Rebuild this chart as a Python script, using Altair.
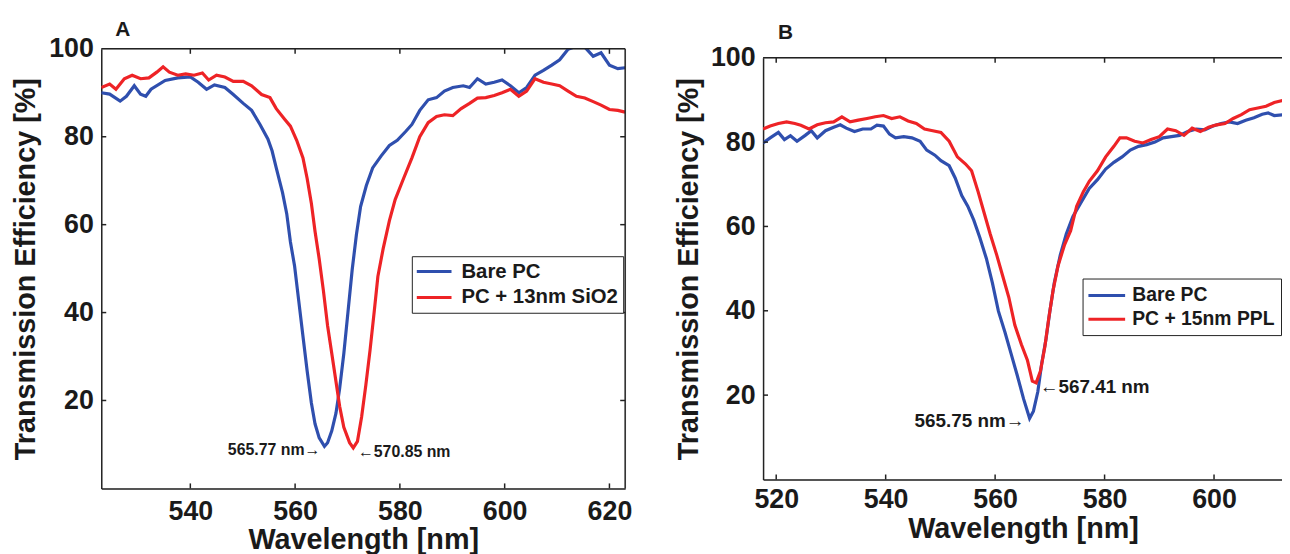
import altair as alt
import pandas as pd

# ---------------- data ----------------
A_SERIES = ["Bare PC", "PC + 13nm SiO2"]
B_SERIES = ["Bare PC", "PC + 15nm PPL"]

A_BLUE_WL = [523.0, 524.6, 526.6, 527.8, 529.3, 530.5, 531.5, 532.5, 535.2, 537.6, 540.0, 541.5,
             543.1, 544.6, 546.6, 548.2, 550.1, 551.7, 553.3, 554.8, 555.6, 556.4, 557.6, 558.4,
             559.1, 559.9, 560.7, 561.5, 562.3, 563.1, 563.8, 564.6, 565.6, 566.2, 567.0, 567.8,
             568.5, 569.3, 570.1, 570.9, 571.7, 572.5, 573.6, 574.8, 576.4, 578.0, 579.5, 581.1,
             582.3, 583.8, 585.4, 587.0, 588.5, 590.1, 592.1, 593.3, 594.8, 596.4, 598.0, 599.5,
             601.1, 602.7, 604.2, 605.8, 607.4, 609.0, 610.5, 612.1, 613.7, 615.3, 616.9, 618.4,
             620.0, 621.6, 623.0]
A_BLUE_T = [90.0, 89.7, 88.1, 89.2, 91.6, 89.7, 89.2, 90.8, 92.8, 93.4, 93.6, 92.4,
            90.8, 91.8, 91.2, 89.6, 87.6, 86.0, 82.8, 79.5, 76.8, 72.9, 67.3, 62.5,
            56.1, 50.6, 42.6, 34.6, 26.7, 19.5, 14.7, 11.5, 9.55, 10.4, 13.1, 17.1,
            22.7, 30.7, 40.2, 49.8, 57.7, 64.1, 68.9, 72.9, 75.6, 78.0, 79.2, 81.2,
            82.8, 86.0, 88.4, 88.9, 90.4, 91.2, 91.6, 91.2, 93.2, 92.0, 92.4, 92.9,
            91.6, 90.0, 91.2, 94.0, 95.1, 96.3, 97.5, 99.9, 100.6, 100.4, 98.3, 99.1,
            96.3, 95.5, 95.7]

A_RED_WL = [523.0, 524.6, 525.8, 527.4, 528.9, 530.5, 532.1, 533.6, 534.8, 536.0, 537.6, 539.1,
            540.7, 542.3, 543.5, 545.0, 546.6, 548.2, 550.1, 551.7, 553.6, 555.2, 556.4, 558.0,
            559.1, 560.3, 561.5, 562.3, 563.1, 563.8, 564.6, 565.4, 566.2, 567.0, 567.8, 568.5,
            569.3, 570.4, 571.1, 571.9, 572.7, 573.5, 574.3, 575.1, 575.8, 576.8, 578.0, 579.1,
            580.7, 582.3, 583.8, 585.4, 587.0, 588.5, 590.1, 591.7, 593.3, 594.8, 596.4, 598.0,
            599.5, 601.1, 602.7, 604.2, 605.8, 607.4, 609.0, 610.5, 612.1, 613.7, 615.3, 616.9,
            618.4, 620.0, 621.6, 623.0]
A_RED_T = [91.2, 92.0, 90.8, 93.2, 94.0, 93.2, 93.4, 94.7, 95.9, 94.7, 94.0, 94.3,
           94.0, 94.5, 92.9, 94.0, 93.6, 92.6, 92.6, 91.6, 89.6, 88.9, 86.4, 84.0,
           82.4, 79.2, 75.2, 70.5, 64.9, 58.5, 52.2, 45.0, 37.0, 30.7, 24.3, 18.7,
           13.9, 10.4, 9.2, 10.7, 16.3, 23.5, 31.4, 40.2, 48.2, 54.5, 60.9, 65.7,
           70.5, 75.2, 80.0, 83.2, 84.6, 85.0, 84.8, 86.4, 87.6, 88.8, 88.9, 89.4,
           90.0, 90.8, 89.2, 90.4, 93.2, 92.4, 92.0, 91.6, 90.4, 89.2, 88.8, 88.0,
           87.2, 86.2, 86.0, 85.6]

B_BLUE_WL = [517.6, 518.9, 520.4, 521.5, 522.6, 523.8, 525.3, 526.4, 527.5, 529.0, 530.5, 531.7,
             532.8, 534.3, 535.8, 537.3, 538.4, 539.6, 540.7, 541.8, 543.3, 544.8, 546.3, 547.5,
             549.0, 550.1, 551.6, 552.7, 553.9, 555.0, 556.1, 557.2, 558.4, 559.5, 560.6, 561.8,
             562.9, 564.0, 565.2, 566.3, 567.0, 567.8, 568.5, 569.3, 570.0, 570.8, 571.9, 573.0,
             574.2, 575.7, 577.2, 578.7, 580.2, 581.7, 583.2, 584.7, 586.2, 587.7, 589.2, 590.7,
             592.2, 593.7, 595.2, 596.8, 598.3, 599.8, 601.3, 602.8, 604.3, 605.8, 607.3, 608.8,
             609.9, 611.0, 612.6]
B_BLUE_T = [79.8, 81.0, 82.3, 80.6, 81.5, 80.2, 81.6, 82.7, 81.0, 82.7, 83.5, 84.1,
            83.3, 82.5, 83.1, 83.1, 84.0, 83.8, 81.9, 81.0, 81.3, 81.0, 80.2, 78.1,
            76.9, 75.6, 74.4, 71.5, 67.3, 64.8, 61.5, 57.4, 52.4, 46.6, 39.9, 34.9,
            29.9, 24.9, 19.1, 14.5, 16.2, 20.8, 27.4, 33.3, 39.9, 46.6, 53.2, 58.2,
            62.3, 65.7, 69.0, 71.1, 73.6, 75.2, 76.5, 78.1, 79.0, 79.4, 80.0, 81.0,
            81.3, 81.6, 82.5, 83.1, 82.9, 83.8, 84.4, 84.8, 84.4, 85.2, 85.8, 86.6,
            86.9, 86.3, 86.5]

B_RED_WL = [517.6, 518.9, 520.4, 521.9, 523.4, 524.5, 526.0, 527.5, 529.0, 530.5, 532.0, 533.5,
            535.0, 536.6, 538.1, 539.6, 541.1, 542.6, 544.1, 545.6, 547.1, 548.6, 550.1, 551.6,
            553.1, 554.6, 555.7, 556.9, 558.0, 559.1, 560.3, 561.4, 562.5, 563.6, 564.8, 565.9,
            566.8, 567.5, 568.3, 569.1, 569.8, 570.6, 571.5, 572.7, 573.8, 574.9, 576.1, 577.2,
            578.7, 580.2, 581.7, 582.8, 584.0, 585.5, 587.0, 588.5, 590.0, 591.5, 593.0, 594.5,
            596.0, 597.5, 599.0, 600.5, 602.0, 603.5, 605.0, 606.5, 608.0, 609.5, 611.0, 612.6]
B_RED_T = [83.1, 83.8, 84.4, 84.8, 84.4, 84.0, 83.1, 84.1, 84.6, 84.8, 86.0, 84.8,
           85.2, 85.6, 86.0, 86.3, 85.6, 86.0, 85.0, 84.4, 83.1, 82.7, 82.3, 80.2,
           76.5, 74.8, 73.2, 68.2, 63.2, 58.2, 53.2, 48.2, 43.2, 36.6, 32.0, 28.3,
           23.3, 22.9, 25.8, 31.6, 38.2, 44.9, 50.7, 55.7, 59.0, 64.8, 68.2, 70.7,
           73.2, 76.5, 79.0, 81.0, 81.0, 80.2, 79.8, 80.6, 81.3, 83.1, 82.7, 81.6,
           83.3, 82.5, 83.5, 84.1, 84.4, 85.6, 86.5, 87.7, 88.1, 88.5, 89.4, 89.9]

A_XDOMAIN = [523.0, 623.0]
B_XDOMAIN = [517.6, 612.6]
A_XTICKS = [540, 560, 580, 600, 620]
B_XTICKS = [520, 540, 560, 580, 600]
Y_LABELS = [20, 40, 60, 80, 100]
Y_TICKS = [20, 40, 60, 80]

# resonance minima annotations: (wavelength, transmission, label)
A_PEAK_WL = [565.77, 570.85]
A_PEAK_T = [9.55, 9.2]
A_PEAK_TEXT = ["565.77 nm\u2192", "\u2190570.85 nm"]
B_PEAK_WL = [565.75, 567.41]
B_PEAK_T = [14.5, 23.0]
B_PEAK_TEXT = ["565.75 nm\u2192", "\u2190567.41 nm"]

# ---------------- styling ----------------
FONT = "Liberation Sans"
TXT = "#1a1a1a"
FRAME = "#222222"
BLUE = "#2f4fae"
RED = "#ee2326"


def panel(c):
    xs = alt.Scale(domain=c["xdomain"], nice=False, zero=False)
    ys = alt.Scale(domain=[0, 100], nice=False, zero=False)
    df = pd.DataFrame({
        "wl": c["blue_wl"] + c["red_wl"],
        "T": c["blue_t"] + c["red_t"],
        "series": [c["series"][0]] * len(c["blue_wl"]) + [c["series"][1]] * len(c["red_wl"]),
    })
    xaxis = alt.Axis(values=c["xticks"], format="d", ticks=False, grid=False,
                     labelFlush=False, labelOverlap=False, labelPadding=c["xlabpad"],
                     labelFont=FONT, labelFontSize=27, labelFontWeight="bold", labelColor=TXT,
                     title="Wavelength [nm]", titleFont=FONT, titleFontSize=29,
                     titleFontWeight="bold", titleColor=TXT, titlePadding=2,
                     domainColor=FRAME, domainWidth=1.5)
    yaxis = alt.Axis(values=Y_LABELS, format="d", ticks=False, grid=False,
                     labelFlush=False, labelOverlap=False, labelPadding=8,
                     labelFont=FONT, labelFontSize=27, labelFontWeight="bold", labelColor=TXT,
                     title="Transmission Efficiency [%]", titleFont=FONT, titleFontSize=29,
                     titleFontWeight="bold", titleColor=TXT, titlePadding=c["ytpad"],
                     domainColor=FRAME, domainWidth=1.5)
    L = c["legend"]
    legend = alt.Legend(title=None, orient="none", legendX=L["x"], legendY=L["y"],
                        direction="vertical", padding=L["pad"], strokeColor=FRAME,
                        fillColor="white", symbolType="M-1.2,0H2.8", symbolSize=L["size"],
                        symbolStrokeWidth=3, labelFont=FONT, labelFontSize=L["font"],
                        labelFontWeight="bold", labelColor=TXT, labelOffset=L["loff"],
                        rowPadding=L["rowpad"])
    X = lambda f: alt.X(f, scale=xs, axis=xaxis)
    Y = lambda f: alt.Y(f, scale=ys, axis=yaxis)

    lines = alt.Chart(df).mark_line(strokeWidth=3.2, clip=True).encode(
        x=X("wl:Q"), y=Y("T:Q"),
        color=alt.Color("series:N", scale=alt.Scale(domain=c["series"], range=[BLUE, RED]),
                        legend=legend),
    )

    # inward ticks, 5 px long
    tx = (c["xdomain"][1] - c["xdomain"][0]) * 5.0 / c["w"]
    ty = 100 * 5.0 / c["h"]
    n = len(c["xticks"])
    xt = pd.DataFrame({"x": c["xticks"] + c["xticks"],
                       "y": [0.0] * n + [100 - ty] * n,
                       "y2": [ty] * n + [100.0] * n})
    xt_layer = alt.Chart(xt).mark_rule(color=FRAME, strokeWidth=1.5).encode(
        x=X("x:Q"), y=Y("y:Q"), y2="y2:Q")
    m = len(Y_TICKS)
    x0, x1 = c["xdomain"]
    yx = [x0] * m
    yx2 = [x0 + tx] * m
    yy = list(Y_TICKS)
    if c["right"]:
        yx = yx + [x1 - tx] * m
        yx2 = yx2 + [x1] * m
        yy = yy + list(Y_TICKS)
    yt = pd.DataFrame({"x": yx, "x2": yx2, "y": yy})
    yt_layer = alt.Chart(yt).mark_rule(color=FRAME, strokeWidth=1.5).encode(
        x=X("x:Q"), x2="x2:Q", y=Y("y:Q"))

    top = alt.Chart(pd.DataFrame({"y": [100.0]})).mark_rule(color=FRAME, strokeWidth=1.5).encode(
        y=Y("y:Q"))
    layers = [lines, xt_layer, yt_layer, top]
    if c["right"]:
        right = alt.Chart(pd.DataFrame({"x": [x1]})).mark_rule(color=FRAME, strokeWidth=1.5).encode(
            x=X("x:Q"))
        layers.append(right)

    A = c["ann"]
    for i, align in enumerate(["right", "left"]):
        d = pd.DataFrame({"wl": [c["peak_wl"][i]], "T": [c["peak_t"][i]], "t": [c["peak_text"][i]]})
        layers.append(alt.Chart(d).mark_text(
            align=align, baseline="middle", dx=A["dx"][i], dy=A["dy"][i], font=FONT,
            fontSize=A["font"], fontWeight="bold", color=TXT).encode(
            x=X("wl:Q"), y=Y("T:Q"), text="t:N"))

    return alt.layer(*layers).properties(
        width=c["w"], height=c["h"],
        title=alt.TitleParams(text=c["letter"], anchor="start", frame="group", dx=c["tdx"],
                              offset=c["toff"], fontSize=21, fontWeight="bold", font=FONT,
                              color=TXT, baseline="alphabetic"))


pa = panel(dict(letter="A", tdx=14, toff=-22, series=A_SERIES,
                blue_wl=A_BLUE_WL, blue_t=A_BLUE_T, red_wl=A_RED_WL, red_t=A_RED_T,
                xdomain=A_XDOMAIN, xticks=A_XTICKS, w=528, h=443, xlabpad=10, ytpad=8,
                right=True,
                legend=dict(x=313, y=209, pad=5, size=306, font=20.5, loff=24, rowpad=5),
                peak_wl=A_PEAK_WL, peak_t=A_PEAK_T, peak_text=A_PEAK_TEXT,
                ann=dict(font=16, dx=[-5, 6], dy=[4, 4])))

pb = panel(dict(letter="B", tdx=15, toff=-16.5, series=B_SERIES,
                blue_wl=B_BLUE_WL, blue_t=B_BLUE_T, red_wl=B_RED_WL, red_t=B_RED_T,
                xdomain=B_XDOMAIN, xticks=B_XTICKS, w=524, h=425, xlabpad=7, ytpad=7,
                right=False,
                legend=dict(x=322, y=222.5, pad=6, size=342, font=19.5, loff=22, rowpad=3),
                peak_wl=B_PEAK_WL, peak_t=B_PEAK_T, peak_text=B_PEAK_TEXT,
                ann=dict(font=19, dx=[-2, 4], dy=[3, 4.5])))

chart = alt.hconcat(pa, pb, spacing=139, bounds="flush", center=True).resolve_scale(
    color="independent"
).properties(
    padding={"left": 3, "top": 8, "right": -3, "bottom": 0}
).configure_view(stroke=None).configure(font=FONT)

chart.save("out.html", embed_options={"renderer": "svg", "actions": False})
